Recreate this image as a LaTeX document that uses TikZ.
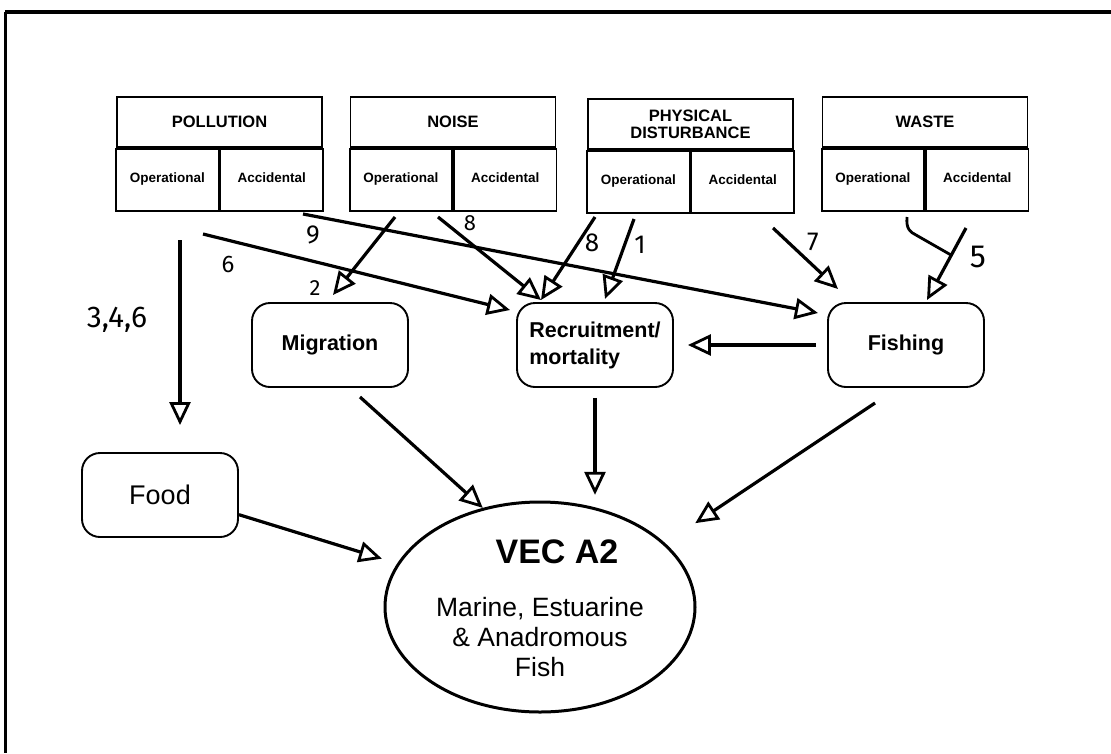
\documentclass[tikz,border=0pt]{standalone}
\usepackage{fontspec}
\setsansfont{Liberation Sans}
\newfontfamily\handfont{Fira Sans}
\usetikzlibrary{arrows.meta, shapes.geometric}

\begin{document}
\begin{tikzpicture}[x=1pt, y=-1pt,
		every node/.style={font=\sffamily},
		head/.style={draw, line width=1.8pt, minimum width=205pt, minimum height=50pt, inner sep=0pt, align=center, font=\sffamily\bfseries\fontsize{16.5}{17}\selectfont},
		half/.style={draw, line width=1.8pt, minimum width=102.5pt, minimum height=62pt, inner sep=0pt, text height=1.5ex, text depth=0.3ex, font=\sffamily\bfseries\fontsize{13.5}{14}\selectfont},
		effect/.style={draw, line width=1.9pt, rounded corners=18pt, minimum width=156pt, minimum height=84pt, align=left, font=\sffamily\bfseries\fontsize{21.5}{27}\selectfont},
		link/.style={line width=3.2pt, -{Triangle[open, length=23pt, width=21pt, line width=2.8pt]}},
		hand/.style={font=\handfont\fontsize{26}{26}\selectfont}]
		\useasboundingbox (0,0) rectangle (1111,753);
		%Rahmen
		\draw[line width=4pt] (5,12) -- (1111,12);
		\draw[line width=3pt] (5,12) -- (5,753);
		%Belastungen
		\foreach \name/\title/\xpos/\ypos in {pollution/POLLUTION/219.5/122, noise/NOISE/453/122, physical/{PHYSICAL\\DISTURBANCE}/690.5/124, waste/WASTE/925/122} {
			\node (\name) [head] at (\xpos, \ypos) {\title};
			\node (\name-op) [half, anchor=north east] at (\name.south) {Operational};
			\node (\name-acc) [half, anchor=north west] at (\name.south) {Accidental};
		}
		%Wirkungen
		\node (migration) [effect] at (330, 345) {Migration};
		\node (recruit) [effect] at (595, 345) {Recruitment/\\mortality};
		\node (fishing) [effect] at (906, 345) {Fishing};
		\node (food) [effect, font=\sffamily\fontsize{27}{27}\selectfont] at (160, 495) {Food};
		\node (vec) [ellipse, draw, line width=3pt, minimum width=310pt, minimum height=210pt, inner sep=0pt] at (540, 607) {};
		\node (vecTitle) [font=\sffamily\bfseries\fontsize{34}{36}\selectfont] at (557, 552) {VEC A2};
		\node (vecText) [align=center, font=\sffamily\fontsize{26.5}{30}\selectfont] at (540, 637) {Marine, Estuarine\\\& Anadromous\\Fish};
		%Pfeile unten
		\draw[link, shorten <=11pt, shorten >=14pt] (fishing.west) -- (recruit.east);
		\coordinate (migOut) at (360, 397);
		\draw[link] (migOut) -- (vec.120);
		\draw[link, shorten <=10pt, shorten >=12pt] (recruit.south) -- (recruit.south |- vec.62);
		\coordinate (fishOut) at (875, 403);
		\draw[link, shorten >=36pt] (fishOut) -- (vec.27);
		\draw[link, shorten >=16pt] (food.-14) -- (vec.163);
		%Pfeile oben
		\coordinate (polOut) at (180, 240);
		\draw[link, shorten >=27pt] (polOut) -- (polOut |- food.north);
		\coordinate (sixOut) at (203, 234);
		\coordinate (sixIn) at (510, 310);
		\draw[link] (sixOut) -- (sixIn);
		\coordinate (nineOut) at (303, 214);
		\coordinate (nineIn) at (818, 313);
		\draw[link] (nineOut) -- (nineIn);
		\coordinate (twoOut) at (395, 217);
		\coordinate (twoIn) at (333, 295);
		\draw[link] (twoOut) -- (twoIn);
		\coordinate (eightOutA) at (438, 217);
		\coordinate (eightIn) at (541, 300);
		\draw[link] (eightOutA) -- (eightIn);
		\coordinate (eightOutB) at (595, 217);
		\draw[link] (eightOutB) -- (eightIn);
		\coordinate (oneOut) at (634, 219);
		\coordinate (oneIn) at (605, 299);
		\draw[link] (oneOut) -- (oneIn);
		\coordinate (sevenOut) at (773, 228);
		\coordinate (sevenIn) at (838, 289);
		\draw[link] (sevenOut) -- (sevenIn);
		\coordinate (fiveOut) at (966, 228);
		\coordinate (fiveIn) at (927, 300);
		\draw[link] (fiveOut) -- (fiveIn);
		\coordinate (hookOut) at (907, 217);
		\coordinate (hookIn) at (951, 255);
		\draw[line width=2.8pt] (hookOut) .. controls (906, 229) and (910, 232) .. (916, 235) -- (hookIn);
		%Nummern
		\node (lblA) [hand, font=\handfont\fontsize{30}{30}\selectfont] at (117, 320) {3,4,6};
		\node (lblSix) [hand, font=\handfont\fontsize{24}{24}\selectfont] at (228, 264) {6};
		\node (lblNine) [hand] at (313, 235) {9};
		\node (lblTwo) [hand, font=\handfont\fontsize{22}{22}\selectfont] at (315, 288) {2};
		\node (lblEightA) [hand, font=\handfont\fontsize{22}{22}\selectfont] at (470, 223) {8};
		\node (lblEightB) [hand] at (592, 243) {8};
		\node (lblOne) [hand] at (640, 245) {1};
		\node (lblSeven) [hand] at (813, 242) {7};
		\node (lblFive) [hand, font=\handfont\fontsize{32}{32}\selectfont] at (978, 257) {5};
	\end{tikzpicture}
\end{document}
